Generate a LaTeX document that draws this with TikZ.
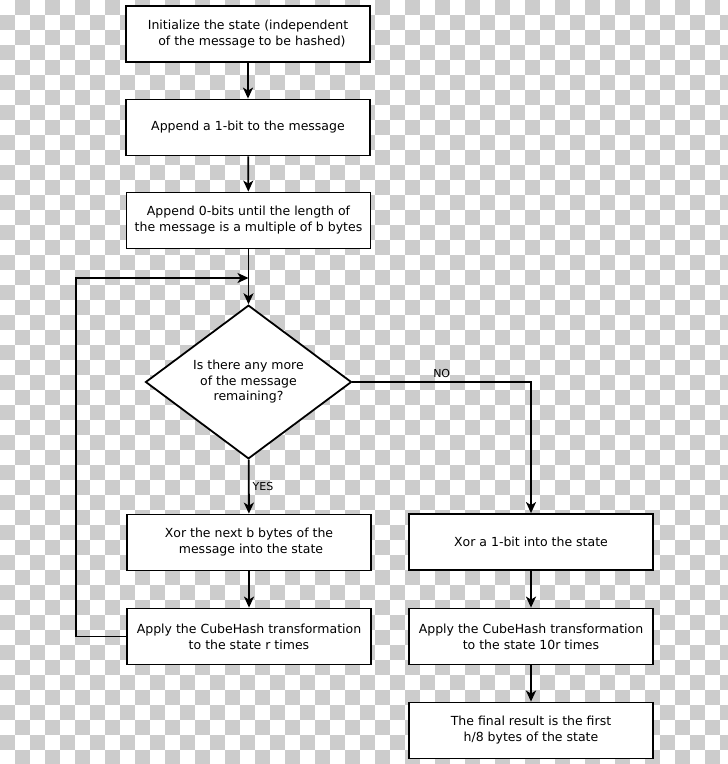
\documentclass[tikz,border=0pt]{standalone}
\usepackage{fontspec}
\setmainfont{DejaVu Sans}
\usetikzlibrary{shapes.geometric,arrows.meta}
\definecolor{checker}{RGB}{204,204,204}
\tikzset{
  stepbox/.style={draw,fill=white,line width=1.8pt,minimum width=244pt,minimum height=56pt,
    inner sep=0pt,align=center,font=\fontsize{12.5}{16}\selectfont},
  testbox/.style={draw,fill=white,diamond,line width=1.8pt,minimum width=206pt,minimum height=149pt,
    inner sep=0pt,align=center,font=\fontsize{12.5}{15.5}\selectfont},
  flow/.style={line width=1.8pt,-{Stealth[length=11pt,width=10pt,inset=3pt]}},
  tag/.style={font=\fontsize{11}{12}\selectfont,inner sep=3pt}
}
\begin{document}
\begin{tikzpicture}[x=1pt,y=-1pt]
\useasboundingbox (0,0) rectangle (728,764);
% transparency pattern
\foreach \i in {0,2,...,48}
{
\foreach \j in {1,3,...,51}
{
\fill[checker] (15*\i,15*\j) rectangle ++(15,15);
\fill[checker] (15*\i+15,15*\j-15) rectangle ++(15,15);
}
}
% left column
\node[stepbox] (init) at (248,34) {Initialize the state (independent\\~~of the message to be hashed)};
\node[stepbox] (pad1) at (248,127.5) {Append a 1-bit to the message};
\node[stepbox] (pad0) at (248.5,220.5) {Append 0-bits until the length of\\the message is a multiple of b bytes};
\node[testbox] (test) at (248.5,382) {Is there any more\\of the message\\remaining?};
\node[stepbox] (xorb) at (249,542.5) {Xor the next b bytes of the\\~message into the state};
\node[stepbox] (round) at (249,636.5) {Apply the CubeHash transformation\\to the state r times};
% right column
\node[stepbox] (xor1) at (531,542) {Xor a 1-bit into the state};
\node[stepbox] (fin) at (531,636.5) {Apply the CubeHash transformation\\to the state 10r times};
\node[stepbox] (result) at (531,730.5) {The final result is the first\\h/8 bytes of the state};
\coordinate (loopin) at (248.5,278);
% connectors
\draw[flow] (init) -- (pad1);
\draw[flow] (pad1) -- (pad0);
\draw[flow] (pad0) -- (test);
\draw[flow] (test) -- node[tag,right]{YES} (xorb);
\draw[flow] (test.east) -| node[tag,pos=0.25,above]{NO} (xor1);
\draw[flow] (xorb) -- (round);
\draw[flow] (round.west) -- ++(-50,0) |- (loopin);
\draw[flow] (xor1) -- (fin);
\draw[flow] (fin) -- (result);
\end{tikzpicture}
\end{document}
